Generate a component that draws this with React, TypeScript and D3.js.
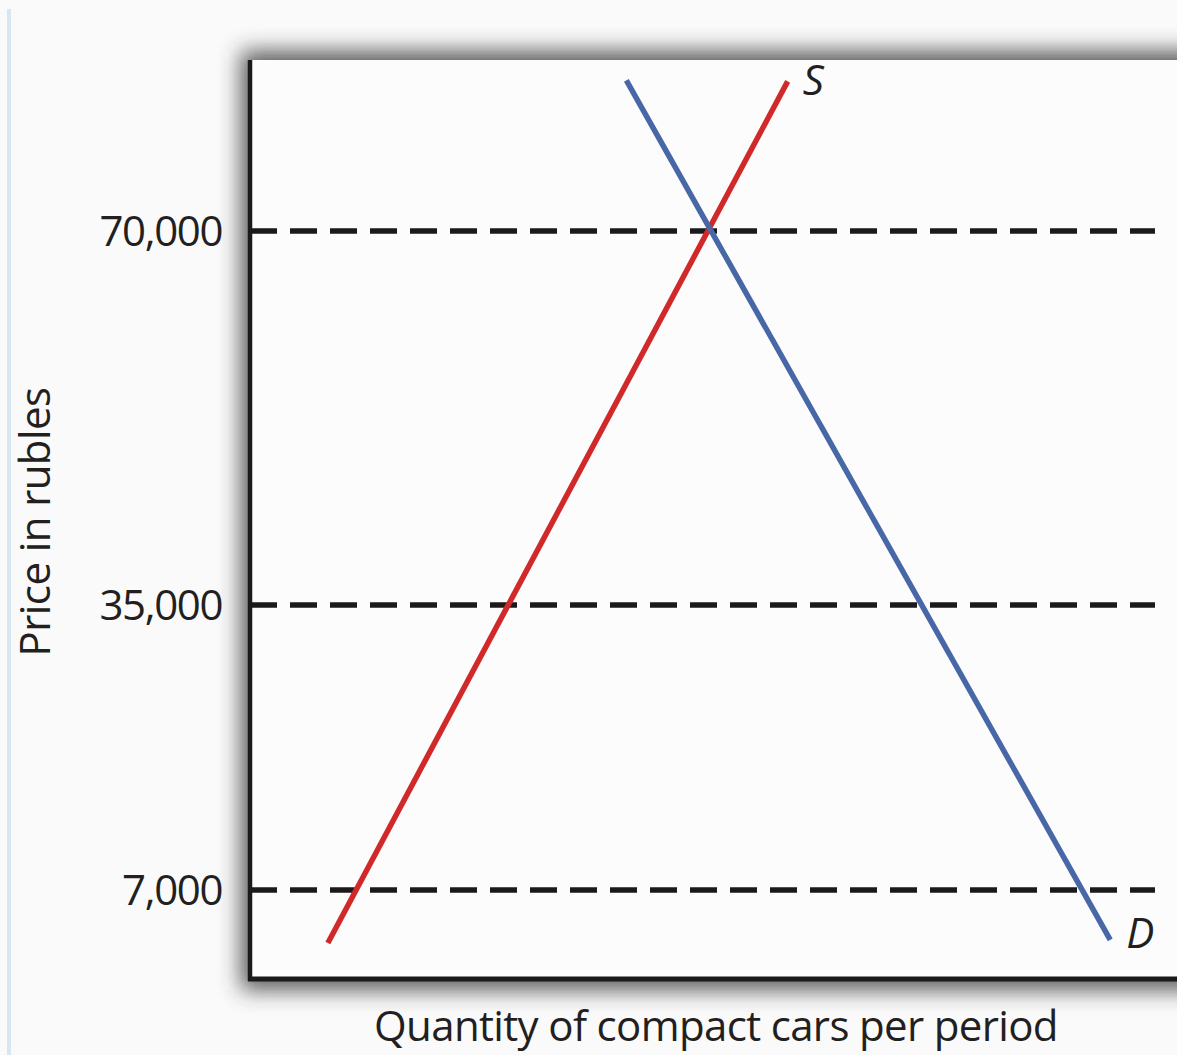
import * as d3 from "d3";
import { useEffect, useRef } from "react";

// price levels marked on the vertical axis
const priceTicks = [7000, 35000, 70000];
const priceTickLabels = ["7,000", "35,000", "70,000"];

// supply curve endpoints (quantity, price)
const supplyQuantity = [84, 580];
const supplyPrice = [1800, 84000];

// demand curve endpoints (quantity, price)
const demandQuantity = [406, 928];
const demandPrice = [84100, 2100];

type Pt = { q: number; p: number };

const zip = (qs: number[], ps: number[]): Pt[] =>
  qs.map((q, i) => ({ q, p: ps[i] }));

const App = () => {
  const ref = useRef<HTMLDivElement>(null);

  useEffect(() => {
    const width = 1177;
    const height = 1055;
    const left = 250;
    const top = 60;
    const bottom = 979;
    const font = "'Open Sans', 'Noto Sans', sans-serif";
    const fontSize = 42;
    const ink = "#231f20";

    d3.select(ref.current).select("svg").remove();

    const svg = d3
      .select(ref.current)
      .append("svg")
      .attr("width", width)
      .attr("height", height)
      .style("position", "absolute")
      .style("left", "0px")
      .style("top", "0px")
      .style("background", "#fafafa");

    const defs = svg.append("defs");
    defs
      .append("filter")
      .attr("id", "panelBlur")
      .attr("x", "-15%")
      .attr("y", "-15%")
      .attr("width", "130%")
      .attr("height", "130%")
      .append("feGaussianBlur")
      .attr("stdDeviation", 11);

    // light blue strip at the left edge
    svg
      .append("rect")
      .attr("x", 7)
      .attr("y", 9)
      .attr("width", 4)
      .attr("height", height - 9)
      .attr("fill", "#d6e6f3");

    // shadow behind the panel
    svg
      .append("rect")
      .attr("x", left - 9)
      .attr("y", top - 9)
      .attr("width", width - left + 60)
      .attr("height", bottom - top + 20)
      .attr("fill", "#333")
      .attr("opacity", 0.8)
      .attr("filter", "url(#panelBlur)");

    // panel
    svg
      .append("rect")
      .attr("x", left)
      .attr("y", top)
      .attr("width", width - left + 40)
      .attr("height", bottom - top)
      .attr("fill", "#fcfcfc");

    const x = d3.scaleLinear().domain([0, 1000]).range([left, width]);
    const y = d3
      .scaleLinear()
      .domain(priceTicks)
      .range([890, 605, 231]);

    // dashed price levels
    svg
      .append("g")
      .selectAll("line")
      .data(priceTicks)
      .join("line")
      .attr("x1", left)
      .attr("x2", 1155)
      .attr("y1", (d) => y(d))
      .attr("y2", (d) => y(d))
      .attr("stroke", "#1a1a1a")
      .attr("stroke-width", 5.5)
      .attr("stroke-dasharray", "27 13");

    svg
      .append("g")
      .selectAll("text")
      .data(priceTicks)
      .join("text")
      .attr("x", 222)
      .attr("y", (d) => y(d))
      .attr("dy", "0.36em")
      .attr("text-anchor", "end")
      .attr("font-family", font)
      .attr("font-size", fontSize)
      .attr("fill", ink)
      .attr("letter-spacing", -1.4)
      .text((d, i) => priceTickLabels[i]);

    const line = d3
      .line<Pt>()
      .x((d) => x(d.q))
      .y((d) => y(d.p));

    svg
      .append("path")
      .attr("d", line(zip(supplyQuantity, supplyPrice)))
      .attr("fill", "none")
      .attr("stroke", "#d1282a")
      .attr("stroke-width", 5.5);

    svg
      .append("path")
      .attr("d", line(zip(demandQuantity, demandPrice)))
      .attr("fill", "none")
      .attr("stroke", "#4867a6")
      .attr("stroke-width", 5.5);

    svg
      .append("text")
      .attr("x", x(supplyQuantity[1]) + 15)
      .attr("y", y(supplyPrice[1]) + 14)
      .attr("font-family", font)
      .attr("font-style", "italic")
      .attr("font-size", fontSize)
      .attr("fill", ink)
      .text("S");

    svg
      .append("text")
      .attr("x", x(demandQuantity[1]) + 16)
      .attr("y", y(demandPrice[1]) + 8)
      .attr("font-family", font)
      .attr("font-style", "italic")
      .attr("font-size", fontSize)
      .attr("fill", ink)
      .text("D");

    // axes
    svg
      .append("line")
      .attr("x1", left)
      .attr("x2", left)
      .attr("y1", top)
      .attr("y2", bottom + 2)
      .attr("stroke", "#1a1a1a")
      .attr("stroke-width", 4.5);

    svg
      .append("line")
      .attr("x1", left - 2)
      .attr("x2", width)
      .attr("y1", bottom)
      .attr("y2", bottom)
      .attr("stroke", "#1a1a1a")
      .attr("stroke-width", 5);

    svg
      .append("text")
      .attr("x", 716)
      .attr("y", 1041)
      .attr("text-anchor", "middle")
      .attr("font-family", font)
      .attr("font-size", fontSize)
      .attr("fill", ink)
      .attr("letter-spacing", -0.65)
      .text("Quantity of compact cars per period");

    svg
      .append("text")
      .attr("transform", "translate(50, 522) rotate(-90)")
      .attr("text-anchor", "middle")
      .attr("font-family", font)
      .attr("font-size", fontSize)
      .attr("fill", ink)
      .attr("letter-spacing", -0.6)
      .text("Price in rubles");
  }, []);

  return <div ref={ref}></div>;
};

export default App;
